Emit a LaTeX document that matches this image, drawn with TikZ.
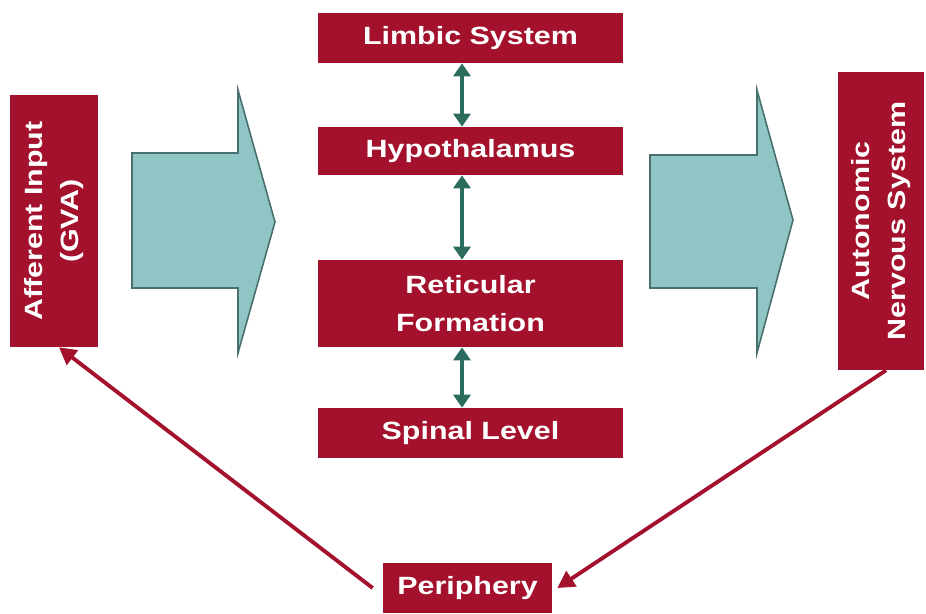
\documentclass[tikz,border=0pt]{standalone}
\usepackage{fontspec}
\setmainfont[FakeStretch=1.22]{Liberation Sans}
\usepackage{xcolor}
\usetikzlibrary{arrows.meta, positioning, calc}

\definecolor{boxred}{RGB}{163,17,45}
\definecolor{bigfill}{RGB}{143,197,196}
\definecolor{bigline}{RGB}{72,112,110}
\definecolor{linkteal}{RGB}{44,108,94}

\begin{document}
\begin{tikzpicture}[
    x=0.02cm, y=-0.02cm,
    font=\fontsize{14.2}{20}\selectfont\bfseries,
    redbox/.style    ={fill=boxred, text=white, align=center, inner sep=2pt,
                       minimum width=6.1cm, minimum height=1cm},
    sidebox/.style   ={redbox, rotate=90, minimum height=1.75cm},
    bigarrow/.style  ={fill=bigfill, draw=bigline, line width=0.9pt},
    link/.style      ={{Triangle[length=2.6mm,width=3.4mm]}-{Triangle[length=2.6mm,width=3.4mm]},
                       line width=2.6pt, linkteal},
    feed/.style      ={-{Triangle[length=3.4mm,width=3.6mm]}, line width=2.2pt, boxred}
]
\useasboundingbox (0,0) rectangle (926,613);

% Centre column
\node[redbox] (limbic) at (470.5,38)  {Limbic System};
\node[redbox, minimum height=0.96cm] (hypo) at (470.5,151) {Hypothalamus};
\node[redbox, minimum height=1.74cm] (retic) at (470.5,303.5) {Reticular\\[2pt]Formation};
\node[redbox] (spinal) at (470.5,433) {Spinal Level};

% Side boxes (rotated: .west is the bottom edge)
\node[sidebox, minimum width=5.04cm] (aff) at (54,221) {Afferent Input\\(GVA)};
\node[sidebox, minimum width=5.96cm, minimum height=1.72cm] (ans) at (881,221)
    {Autonomic\\Nervous System};

% Bottom
\node[redbox, minimum width=3.38cm] (periph) at (467.5,588) {Periphery};

% --- Big arrows ---
\draw[bigarrow] (132,153) -- (238,153) -- (238,90) -- (275,222)
    -- (238,353) -- (238,288) -- (132,288) -- cycle;
\draw[bigarrow] (650,155) -- (757,155) -- (757,90) -- (793,220)
    -- (757,353) -- (757,288) -- (650,288) -- cycle;

% --- Links in the centre column ---
\draw[link] ([xshift=-0.17cm]limbic.south) -- ([xshift=-0.17cm]hypo.north);
\draw[link] ([xshift=-0.17cm]hypo.south) -- ([xshift=-0.17cm]retic.north);
\draw[link] ([xshift=-0.17cm]retic.south) -- ([xshift=-0.17cm]spinal.north);

% --- Feedback loop ---
\draw[feed] ([xshift=-0.2cm]periph.west) -- ([xshift=0.1cm]aff.west);
\draw[feed] ([xshift=0.1cm]ans.west) -- ([xshift=0.1cm]periph.east);

\end{tikzpicture}
\end{document}
